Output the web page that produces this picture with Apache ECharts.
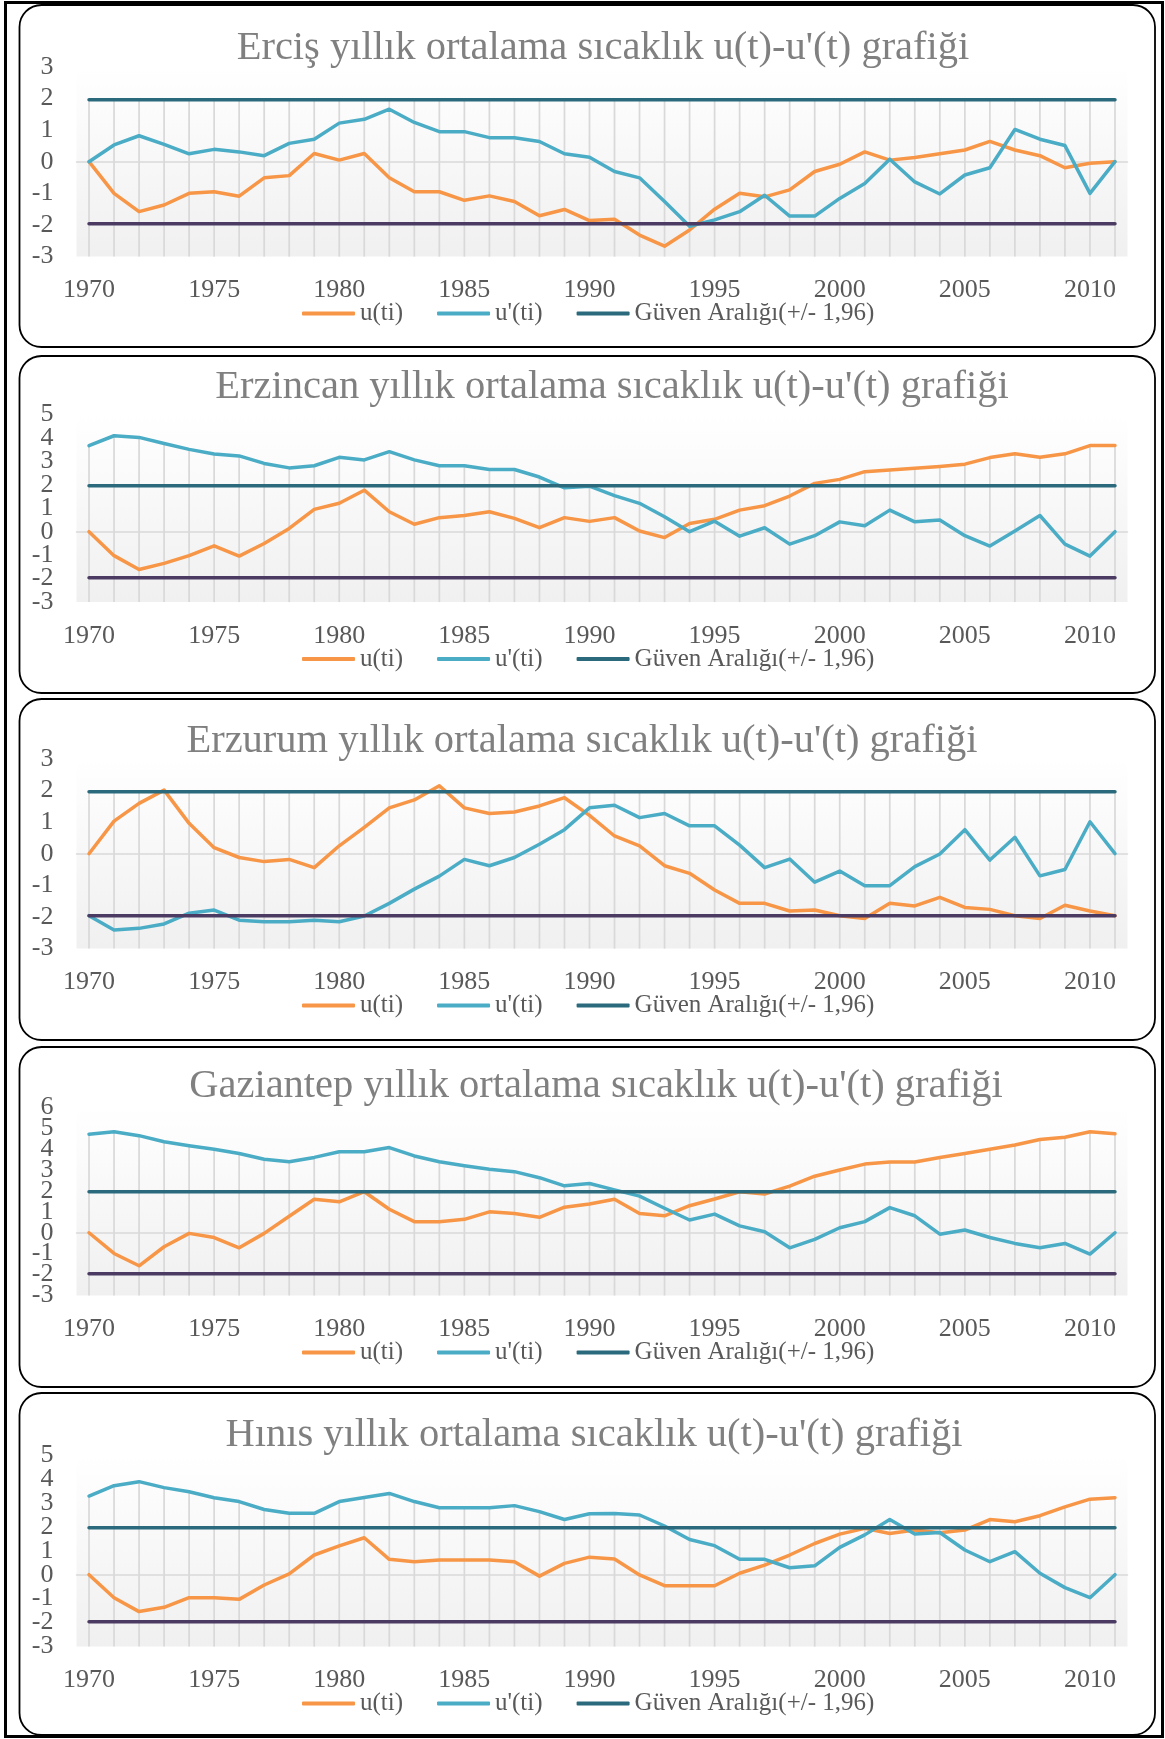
<!DOCTYPE html>
<html><head><meta charset="utf-8">
<script src="https://cdn.jsdelivr.net/npm/echarts@6/dist/echarts.min.js"></script>
<style>html,body{margin:0;padding:0;background:#fff}#c{width:1165px;height:1739px}</style>
</head><body><div id="c"></div>
<script>
const years = ['1970','1971','1972','1973','1974','1975','1976','1977','1978','1979','1980','1981','1982','1983','1984','1985','1986','1987','1988','1989','1990','1991','1992','1993','1994','1995','1996','1997','1998','1999','2000','2001','2002','2003','2004','2005','2006','2007','2008','2009','2010','2011'];

const titles = [
  "Erciş yıllık ortalama sıcaklık u(t)-u'(t) grafiği",
  "Erzincan yıllık ortalama sıcaklık u(t)-u'(t) grafiği",
  "Erzurum yıllık ortalama sıcaklık u(t)-u'(t) grafiği",
  "Gaziantep yıllık ortalama sıcaklık u(t)-u'(t) grafiği",
  "Hınıs yıllık ortalama sıcaklık u(t)-u'(t) grafiği"
];
const legendNames = ['u(ti)', "u'(ti)", 'Güven Aralığı(+/- 1,96)'];
const guven = 1.96;
const yMins = [-3, -3, -3, -3, -3];
const yMaxs = [3, 5, 3, 6, 5];

const ercisU = [0,-1.00,-1.58,-1.37,-1.00,-0.95,-1.09,-0.51,-0.44,0.26,0.05,0.26,-0.51,-0.95,-0.95,-1.22,-1.08,-1.26,-1.71,-1.51,-1.86,-1.82,-2.32,-2.67,-2.16,-1.50,-1.00,-1.11,-0.89,-0.31,-0.08,0.31,0.05,0.13,0.25,0.37,0.64,0.37,0.19,-0.19,-0.05,0];
const ercisU2 = [0,0.53,0.82,0.55,0.25,0.39,0.31,0.19,0.58,0.71,1.22,1.34,1.66,1.24,0.95,0.95,0.76,0.76,0.64,0.25,0.14,-0.31,-0.51,-1.26,-2.04,-1.84,-1.58,-1.06,-1.72,-1.72,-1.16,-0.69,0.08,-0.64,-1.02,-0.42,-0.19,1.02,0.71,0.51,-1.00,0];

const erzincanU = [0,-1.02,-1.61,-1.35,-1.02,-0.60,-1.04,-0.50,0.14,0.95,1.21,1.77,0.85,0.32,0.60,0.69,0.85,0.57,0.17,0.60,0.44,0.60,0.03,-0.25,0.35,0.53,0.92,1.11,1.52,2.06,2.23,2.56,2.63,2.70,2.78,2.88,3.16,3.32,3.17,3.32,3.67,3.67];
const erzincanU2 = [3.67,4.09,4.02,3.76,3.51,3.31,3.23,2.91,2.72,2.81,3.17,3.06,3.41,3.06,2.81,2.81,2.65,2.65,2.33,1.87,1.94,1.54,1.21,0.64,0,0.45,-0.19,0.17,-0.53,-0.17,0.42,0.25,0.92,0.42,0.50,-0.17,-0.61,0.03,0.69,-0.53,-1.04,0];

const erzurumU = [0,1.03,1.59,2.01,0.96,0.19,-0.12,-0.25,-0.18,-0.44,0.25,0.83,1.45,1.70,2.15,1.45,1.27,1.32,1.51,1.77,1.21,0.56,0.25,-0.38,-0.62,-1.15,-1.57,-1.57,-1.81,-1.78,-1.96,-2.05,-1.57,-1.65,-1.38,-1.70,-1.76,-1.96,-2.05,-1.63,-1.81,-1.96];
const erzurumU2 = [-1.96,-2.41,-2.36,-2.22,-1.88,-1.78,-2.10,-2.15,-2.15,-2.10,-2.15,-1.97,-1.57,-1.12,-0.71,-0.18,-0.38,-0.12,0.30,0.76,1.45,1.53,1.14,1.27,0.88,0.88,0.27,-0.44,-0.17,-0.90,-0.55,-1.01,-1.01,-0.41,-0.01,0.76,-0.20,0.52,-0.70,-0.50,1.01,0];

const gaziantepU = [0,-0.99,-1.58,-0.67,-0.03,-0.23,-0.72,-0.03,0.79,1.60,1.48,1.96,1.12,0.53,0.53,0.64,1.00,0.92,0.74,1.22,1.37,1.60,0.92,0.81,1.29,1.61,1.96,1.85,2.23,2.70,3.00,3.28,3.38,3.38,3.60,3.79,3.99,4.19,4.46,4.56,4.83,4.73];
const gaziantepU2 = [4.71,4.83,4.64,4.35,4.16,3.99,3.79,3.51,3.39,3.60,3.87,3.87,4.07,3.67,3.39,3.20,3.03,2.92,2.63,2.24,2.35,2.05,1.75,1.17,0.61,0.89,0.33,0.05,-0.72,-0.32,0.24,0.53,1.20,0.81,-0.07,0.13,-0.23,-0.51,-0.72,-0.51,-1.02,0];

const hinisU = [0,-0.96,-1.54,-1.36,-0.96,-0.96,-1.03,-0.43,0.03,0.82,1.20,1.54,0.64,0.54,0.61,0.61,0.61,0.54,-0.06,0.47,0.73,0.65,-0.01,-0.46,-0.46,-0.46,0.06,0.40,0.82,1.30,1.69,1.93,1.72,1.86,1.75,1.86,2.30,2.21,2.46,2.83,3.15,3.21];
const hinisU2 = [3.28,3.71,3.88,3.63,3.46,3.21,3.05,2.72,2.56,2.56,3.05,3.22,3.39,3.05,2.79,2.79,2.79,2.88,2.63,2.30,2.54,2.55,2.49,2.03,1.47,1.21,0.64,0.64,0.29,0.37,1.14,1.66,2.30,1.70,1.76,1.03,0.54,0.96,0.06,-0.54,-0.96,0];

const uSeries = [ercisU, erzincanU, erzurumU, gaziantepU, hinisU];
const u2Series = [ercisU2, erzincanU2, erzurumU2, gaziantepU2, hinisU2];

// layout (pixels)
const layout = [
  {gridTop: 66.8,  gridBottom: 256.6,  titleX: 603, titleBase: 60,   rectTop: 5,    rectBottom: 347},
  {gridTop: 414.4, gridBottom: 602.1,  titleX: 612, titleBase: 399,  rectTop: 356,  rectBottom: 693},
  {gridTop: 758.8, gridBottom: 948.6,  titleX: 582, titleBase: 753,  rectTop: 699,  rectBottom: 1040},
  {gridTop: 1107.2,gridBottom: 1295.5, titleX: 596, titleBase: 1098, rectTop: 1047, rectBottom: 1387},
  {gridTop: 1454.8,gridBottom: 1646.6, titleX: 594, titleBase: 1447, rectTop: 1393, rectBottom: 1735}
];
const gridLeft = 76.5, gridWidth = 1051;
const FONT = "'Liberation Serif', 'DejaVu Serif', serif";
const TITLE_SIZE = 40.5, LABEL_SIZE = 26, LEGEND_SIZE = 25;
const C_U = '#F79646', C_U2 = '#4BACC6', C_UP = '#2B6A7C', C_LO = '#4B3B63', C_GRID = '#D9D9D9';

const mctx = document.createElement('canvas').getContext('2d');
function textWidth(t, size) { mctx.font = size + "px 'Liberation Serif'"; return mctx.measureText(t).width; }

const option = {
  animation: false,
  backgroundColor: '#ffffff',
  title: [], legend: [], grid: [], xAxis: [], yAxis: [], series: [],
  graphic: []
};

option.graphic.push({type: 'rect', shape: {x: 5.5, y: 2.5, width: 1157, height: 1734}, style: {fill: 'none', stroke: '#000', lineWidth: 3}, z: 100});

layout.forEach((L, i) => {
  option.title.push({
    text: titles[i],
    left: L.titleX - textWidth(titles[i], TITLE_SIZE) / 2,
    top: L.titleBase - 32,
    padding: 0,
    textStyle: {fontFamily: FONT, fontSize: TITLE_SIZE, fontWeight: 'normal', color: '#808080', lineHeight: TITLE_SIZE}
  });
  option.grid.push({
    left: gridLeft, width: gridWidth, top: L.gridTop, height: L.gridBottom - L.gridTop,
    show: true, borderWidth: 0,
    backgroundColor: {type: 'linear', x: 0, y: 0, x2: 0, y2: 1, colorStops: [{offset: 0, color: '#ffffff'}, {offset: 1, color: '#f0f0f0'}]}
  });
  option.xAxis.push({
    type: 'category', gridIndex: i, data: years, boundaryGap: true,
    axisLine: {lineStyle: {color: C_GRID, width: 1.5}},
    axisTick: {interval: 4, length: 6, lineStyle: {color: C_GRID, width: 1.5}},
    axisLabel: {interval: 4, margin: 21, fontFamily: FONT, fontSize: LABEL_SIZE, color: '#595959', lineHeight: LABEL_SIZE},
    splitLine: {show: false}
  });
  // two stacked label sets on the same scale (alternating labels) so none are dropped for overlap
  const mn = yMins[i], mx = yMaxs[i];
  const rangeEven = (mx - mn) % 2 === 0;
  [0, 1].forEach(parity => {
    option.yAxis.push({
      type: 'value', gridIndex: i, position: 'left', offset: 0, min: mn, max: mx, interval: 1,
      axisLine: {show: false}, axisTick: {show: false}, splitLine: {show: false},
      axisLabel: {margin: 23, fontFamily: FONT, fontSize: LABEL_SIZE, color: '#595959',
        hideOverlap: false,
        showMinLabel: parity === 0,
        showMaxLabel: parity === 0 ? rangeEven : !rangeEven,
        formatter: v => (Math.round(v - mn) % 2 === parity ? String(v) : '')}
    });
  });
  option.legend.push({
    data: legendNames, left: 302, top: L.gridBottom + 57 - 13, padding: 0,
    icon: 'roundRect', itemWidth: 53, itemHeight: 4, itemGap: 34,
    itemStyle: {borderWidth: 0},
    textStyle: {fontFamily: FONT, fontSize: LEGEND_SIZE, color: '#595959', lineHeight: 26}
  });
  const u = uSeries[i], u2 = u2Series[i];
  const yi = 2 * i;
  option.series.push({
    type: 'custom', xAxisIndex: i, yAxisIndex: yi, silent: true,
    data: years.map((y, k) => [k, Math.max(u[k], u2[k], guven)]),
    encode: {x: 0, y: 1},
    renderItem: (params, api) => {
      const p = api.coord([api.value(0), api.value(1)]);
      const cs = params.coordSys;
      return {type: 'line', shape: {x1: p[0], y1: p[1], x2: p[0], y2: cs.y + cs.height},
        style: {stroke: C_GRID, lineWidth: 1.75}};
    },
    z: 1
  });
  const common = {type: 'line', xAxisIndex: i, yAxisIndex: yi, showSymbol: false, symbol: 'none', smooth: false, z: 3};
  const LW = 3.5;
  option.series.push(Object.assign({}, common, {name: 'u(ti)', data: u, color: C_U, lineStyle: {color: C_U, width: LW, cap: 'round', join: 'round'}}));
  option.series.push(Object.assign({}, common, {name: "u'(ti)", data: u2, color: C_U2, lineStyle: {color: C_U2, width: LW, cap: 'round', join: 'round'}}));
  option.series.push(Object.assign({}, common, {name: 'Güven Aralığı(+/- 1,96)', data: years.map(() => guven), color: C_UP, lineStyle: {color: C_UP, width: LW, cap: 'round'}}));
  option.series.push(Object.assign({}, common, {name: 'Güven Aralığı alt', data: years.map(() => -guven), color: C_LO, lineStyle: {color: C_LO, width: LW, cap: 'round'}}));
  option.graphic.push({type: 'rect', shape: {x: 19.5, y: L.rectTop, width: 1135.5, height: L.rectBottom - L.rectTop, r: 22},
    style: {fill: 'none', stroke: '#000', lineWidth: 1.8}, z: 100});
});

const chart = echarts.init(document.getElementById('c'), null, {renderer: 'canvas', width: 1165, height: 1739});
chart.setOption(option);
</script>
</body></html>
